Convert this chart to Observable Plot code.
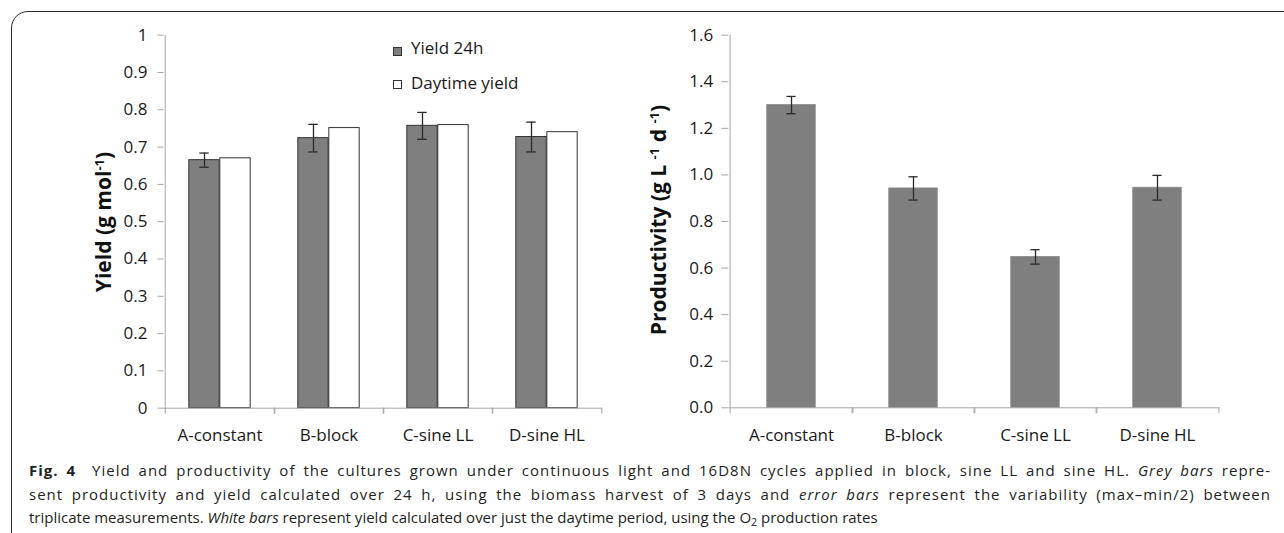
<!DOCTYPE html>
<html>
<head>
<meta charset="utf-8">
<script src="https://cdn.jsdelivr.net/npm/d3@7"></script>
<script src="https://cdn.jsdelivr.net/npm/@observablehq/plot@0.6"></script>
<style>
  html, body { margin:0; padding:0; background:#fff; }
  body { width:1284px; height:533px; overflow:hidden; position:relative; font-family:'Open Sans', sans-serif; color:#1a1a1a; }
  #frame { position:absolute; left:10.5px; top:11px; width:1400px; height:600px; border:1.5px solid #2b2b2b; border-radius:17px; }
  #left { position:absolute; left:0; top:0; }
  #right { position:absolute; left:640px; top:0; }
  .ytitle { position:absolute; transform:translate(-50%,-50%) rotate(-90deg); white-space:nowrap; font-weight:bold; font-size:21px; line-height:24px; color:#111; }
  .ytitle sup { font-size:0.62em; line-height:0; vertical-align:0.55em; }
  .leg-sw { position:absolute; width:7px; height:7px; border:1px solid #333; }
  .leg-tx { position:absolute; font-size:17px; line-height:20px; white-space:nowrap; color:#1a1a1a; }
  #caption { position:absolute; left:29px; top:459.4px; width:1242px; font-size:15px; line-height:23.5px; color:#231f20; }
  #caption .j { text-align:justify; text-align-last:justify; letter-spacing:1px; }
  #caption i { font-style:italic; }
  #caption sub { font-size:0.7em; line-height:0; vertical-align:-0.25em; }
</style>
</head>
<body>
<div id="frame"></div>
<div id="left"></div>
<div id="right"></div>
<div class="ytitle" style="left:103px; top:222px;">Yield (g mol<sup>-1</sup>)</div>
<div class="ytitle" style="left:658px; top:220px;">Productivity (g L <sup>-1</sup> d <sup>-1</sup>)</div>
<div class="leg-sw" style="left:393px; top:46.5px; background:#7f7f7f;"></div>
<div class="leg-tx" style="left:411px; top:37.8px;">Yield 24h</div>
<div class="leg-sw" style="left:393px; top:79.5px; background:#fff;"></div>
<div class="leg-tx" style="left:411px; top:72.8px;">Daytime yield</div>
<div id="caption">
  <div class="j"><b>Fig. 4</b>&nbsp; Yield and productivity of the cultures grown under continuous light and 16D8N cycles applied in block, sine LL and sine HL. <i>Grey bars</i> repre-</div>
  <div class="j">sent productivity and yield calculated over 24 h, using the biomass harvest of 3 days and <i>error bars</i> represent the variability (max–min/2) between</div>
  <div>triplicate measurements. <i>White bars</i> represent yield calculated over just the daytime period, using the O<sub>2</sub> production rates</div>
</div>
<script>
// ---- data ----
const categories = ["A-constant", "B-block", "C-sine LL", "D-sine HL"];
const yield24h = [0.665, 0.724, 0.757, 0.727];
const yieldDaytime = [0.670, 0.751, 0.759, 0.740];
const yieldErr = [0.019, 0.037, 0.036, 0.040];
const productivity = [1.30, 0.942, 0.648, 0.945];
const productivityErr = [0.037, 0.050, 0.031, 0.053];
const yieldTicks = [0, 0.1, 0.2, 0.3, 0.4, 0.5, 0.6, 0.7, 0.8, 0.9, 1];
const prodTicks = [0, 0.2, 0.4, 0.6, 0.8, 1.0, 1.2, 1.4, 1.6];

const leftData = categories.map((c, i) => ({cat: c, y24: yield24h[i], yd: yieldDaytime[i], e: yieldErr[i]}));
const rightData = categories.map((c, i) => ({cat: c, p: productivity[i], e: productivityErr[i]}));

const AXIS = "#a6a6a6", TXT = "#1a1a1a", ERR = "#2a2a2a";
const style = {fontFamily: "'Open Sans', sans-serif", fontSize: "17px", background: "transparent", overflow: "visible", color: TXT};

function bandAxes(bw) {
  return [
    Plot.axisX({tickSize: 0, tickPadding: 21, label: null, fill: TXT}),
    Plot.axisX({tickSize: 6, tickFormat: () => "", label: null, stroke: AXIS, dx: bw / 2}),
    Plot.axisX({tickSize: 6, tickFormat: () => "", label: null, stroke: AXIS, dx: -bw / 2})
  ];
}

// ---- left chart ----
{
  const W = 640, H = 460, mL = 163.5, mR = 38, mT = 34.7, mB = 52.3;
  const bw = (W - mL - mR) / categories.length;
  const barW = 31;
  const chart = Plot.plot({
    width: W, height: H, marginLeft: mL, marginRight: mR, marginTop: mT, marginBottom: mB,
    style,
    x: {domain: categories, padding: 0},
    y: {domain: [0, 1]},
    marks: [
      Plot.barY(leftData, {x: "cat", y: "y24", fill: "#7f7f7f", stroke: "#333", strokeWidth: 1, insetLeft: bw / 2 - barW, insetRight: bw / 2}),
      Plot.barY(leftData, {x: "cat", y: "yd", fill: "#fff", stroke: "#333", strokeWidth: 1, insetLeft: bw / 2, insetRight: bw / 2 - barW}),
      Plot.ruleY([0], {stroke: AXIS}),
      Plot.ruleX([categories[0]], {y1: 0, y2: 1, dx: -bw / 2, stroke: AXIS}),
      ...bandAxes(bw),
      Plot.axisY({ticks: yieldTicks, tickSize: 6, tickPadding: 10.6, label: null, stroke: AXIS, fill: TXT,
        tickFormat: d => String(+d.toFixed(1))}),
      Plot.ruleX(leftData, {x: "cat", y1: d => d.y24 - d.e, y2: d => d.y24 + d.e, dx: -barW / 2, stroke: ERR, strokeWidth: 1.3}),
      Plot.tickY(leftData, {x: "cat", y: d => d.y24 - d.e, dx: -barW / 2, insetLeft: bw / 2 - 5, insetRight: bw / 2 - 5, stroke: ERR, strokeWidth: 1.3}),
      Plot.tickY(leftData, {x: "cat", y: d => d.y24 + d.e, dx: -barW / 2, insetLeft: bw / 2 - 5, insetRight: bw / 2 - 5, stroke: ERR, strokeWidth: 1.3})
    ]
  });
  document.getElementById("left").appendChild(chart);
}

// ---- right chart ----
{
  const W = 644, H = 460, mL = 88.3, mR = 64.5, mT = 34.7, mB = 52.7;
  const bw = (W - mL - mR) / categories.length;
  const barW = 49.3;
  const chart = Plot.plot({
    width: W, height: H, marginLeft: mL, marginRight: mR, marginTop: mT, marginBottom: mB,
    style,
    x: {domain: categories, padding: 0},
    y: {domain: [0, 1.6]},
    marks: [
      Plot.barY(rightData, {x: "cat", y: "p", fill: "#7f7f7f", stroke: "#8a8a8a", strokeWidth: 0.8, insetLeft: (bw - barW) / 2, insetRight: (bw - barW) / 2}),
      Plot.ruleY([0], {stroke: AXIS}),
      Plot.ruleX([categories[0]], {y1: 0, y2: 1.6, dx: -bw / 2, stroke: AXIS}),
      ...bandAxes(bw),
      Plot.axisY({ticks: prodTicks, tickSize: 7, tickPadding: 8.7, label: null, stroke: AXIS, fill: TXT,
        tickFormat: d => d.toFixed(1)}),
      Plot.ruleX(rightData, {x: "cat", y1: d => d.p - d.e, y2: d => d.p + d.e, stroke: ERR, strokeWidth: 1.3}),
      Plot.tickY(rightData, {x: "cat", y: d => d.p - d.e, insetLeft: bw / 2 - 5, insetRight: bw / 2 - 5, stroke: ERR, strokeWidth: 1.3}),
      Plot.tickY(rightData, {x: "cat", y: d => d.p + d.e, insetLeft: bw / 2 - 5, insetRight: bw / 2 - 5, stroke: ERR, strokeWidth: 1.3})
    ]
  });
  document.getElementById("right").appendChild(chart);
}
</script>
</body>
</html>
